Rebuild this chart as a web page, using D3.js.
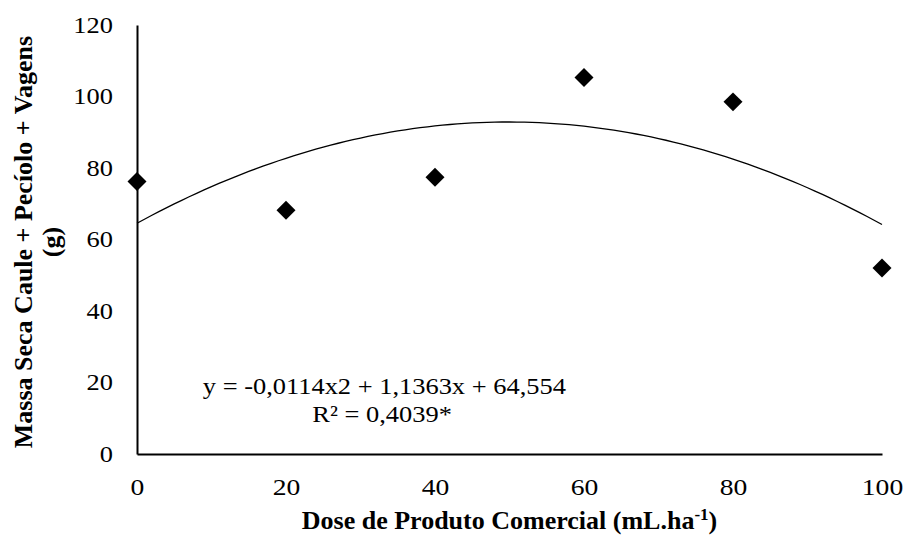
<!DOCTYPE html>
<html>
<head>
<meta charset="utf-8">
<script src="https://cdn.jsdelivr.net/npm/d3@7"></script>
<style>
  body { margin: 0; background: #fff; }
  svg text { font-family: "Liberation Serif", "Times New Roman", "DejaVu Serif", serif; fill: #000; }
</style>
</head>
<body>
<div id="chart"></div>
<script>
// data
var doses = [0, 20, 40, 60, 80, 100];
var massa = [76.2, 68.2, 77.4, 105.3, 98.5, 52.0];
var xTicks = [0, 20, 40, 60, 80, 100];
var yTicks = [0, 20, 40, 60, 80, 100, 120];
// trendline coefficients (a x^2 + b x + c) as printed on the chart
var coef = [-0.0114, 1.1363, 64.554];
var eqLabel = "y = -0,0114x2 + 1,1363x + 64,554";
var r2Label = "R² = 0,4039*";

var W = 906, H = 537;
var margin = {top: 25, right: 24, bottom: 83, left: 137};
var width = W - margin.left - margin.right,
    height = H - margin.top - margin.bottom;
var stretch = 1.15; // the original picture is a bit wider than tall

var svg = d3.select("#chart").append("svg")
    .attr("width", W).attr("height", H)
  .append("g")
    .attr("transform", "translate(" + margin.left + "," + margin.top + ")");

var x = d3.scaleLinear().domain([0, 100]).range([0, width]);
var y = d3.scaleLinear().domain([0, 120]).range([height, 0]);

// axes, no tick marks
var xAxis = svg.append("g")
    .attr("transform", "translate(0," + height + ")")
    .call(d3.axisBottom(x).tickValues(xTicks).tickSize(0).tickPadding(24));
var yAxis = svg.append("g")
    .call(d3.axisLeft(y).tickValues(yTicks).tickSize(0).tickPadding(24));

[xAxis, yAxis].forEach(function(a) {
  a.attr("font-family", null);
  a.select(".domain").attr("stroke", "#000").attr("stroke-width", 2);
  a.selectAll("text")
    .style("font-size", "23px")
    .attr("fill", "#000")
    .attr("transform", "scale(" + stretch + ",1)");
});
xAxis.selectAll("text").style("font-size", "24px");
yAxis.selectAll("text").attr("x", -24 / stretch);

// trend line
var curve = d3.range(0, 100.5, 1).map(function(d) {
  return [d, coef[0] * d * d + coef[1] * d + coef[2]];
});
svg.append("path")
    .datum(curve)
    .attr("fill", "none")
    .attr("stroke", "#000")
    .attr("stroke-width", 1.3)
    .attr("d", d3.line().x(function(d) { return x(d[0]); }).y(function(d) { return y(d[1]); }));

// diamond markers
svg.selectAll(".pt")
    .data(doses)
    .enter().append("path")
    .attr("class", "pt")
    .attr("d", d3.symbol().type(d3.symbolSquare).size(180))
    .attr("transform", function(d, i) {
      return "translate(" + x(d) + "," + y(massa[i]) + ") rotate(45)";
    })
    .attr("fill", "#000");

// equation
svg.append("text")
    .attr("transform", "translate(" + x(33.2) + "," + y(16.8) + ") scale(" + stretch + ",1)")
    .attr("text-anchor", "middle")
    .style("font-size", "23px")
    .text(eqLabel);
svg.append("text")
    .attr("transform", "translate(" + x(32.9) + "," + y(9.0) + ") scale(" + stretch + ",1)")
    .attr("text-anchor", "middle")
    .style("font-size", "23px")
    .text(r2Label);

// x title
var xt = svg.append("text")
    .attr("x", width / 2).attr("y", height + 75)
    .attr("text-anchor", "middle")
    .style("font-size", "26px")
    .style("font-weight", "bold");
xt.append("tspan").text("Dose de Produto Comercial (mL.ha");
xt.append("tspan").attr("dy", -9).style("font-size", "17px").text("-1");
xt.append("tspan").attr("dy", 9).text(")");

// y title, two lines
var yt = svg.append("text")
    .attr("transform", "translate(" + (-margin.left + 32) + "," + 217 + ") rotate(-90)")
    .attr("text-anchor", "middle")
    .style("font-size", "26px")
    .style("font-weight", "bold");
yt.append("tspan").attr("x", 0).attr("dy", 0).text("Massa Seca Caule + Pecíolo + Vagens");
yt.append("tspan").attr("x", 0).attr("dy", 28).text("(g)");
</script>
</body>
</html>
